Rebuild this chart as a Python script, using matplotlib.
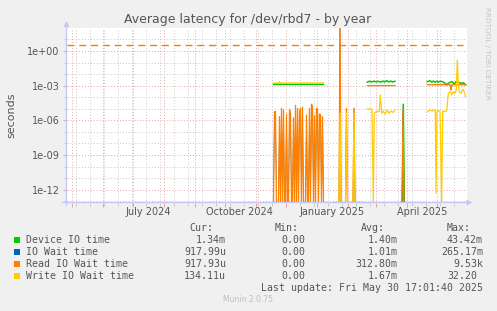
import datetime as dt
import matplotlib
matplotlib.use('Agg')
import matplotlib.pyplot as plt
import matplotlib.dates as mdates
from matplotlib.patches import Rectangle
from matplotlib.ticker import FixedLocator, NullFormatter, FuncFormatter
import numpy as np

nan = float('nan')

W, H = 497, 311   # output size in pixels

# graph window: munin "by year" = 400 days up to the last update
T_END = dt.datetime(2025, 5, 30, 17, 1, 40)
T_START = T_END - dt.timedelta(days=400)

########## Data (day = days after T_START, value in seconds) ##########
# 0 -> drawn on the floor like rrdtool does, nan -> no data (gap)

# Device IO time (green)
device_day = [207, 257, 260,
              300.8, 302.8, 305.2, 307.5, 309.5, 311.8, 314.2, 316.2, 318.2, 320.2,
              322.2, 324.2, 326.2, 328.5, 332,
              335.8, 336.8, 337.8, 345,
              360.8, 363.5, 365.2, 366.8, 368.5, 370.2, 371.8, 373.5, 376.2, 377.8,
              380.2, 381.8, 383.5, 385.8, 387.8, 389.5, 391.8, 394.2, 396.8, 399.2]
device_val = [1.3e-3, 1.3e-3, nan,
              2.0e-3, 2.4e-3, 2.1e-3, 2.5e-3, 2.1e-3, 2.4e-3, 2.0e-3, 2.5e-3, 2.1e-3, 2.7e-3,
              2.1e-3, 2.5e-3, 2.1e-3, 2.4e-3, nan,
              0, 2.5e-5, 0, nan,
              2.2e-3, 2.7e-3, 2.0e-3, 2.5e-3, 2.0e-3, 2.4e-3, 2.0e-3, 2.4e-3, 2.2e-3, 1.8e-3,
              1.2e-3, 1.6e-3, 2.0e-3, 2.2e-3, 1.4e-3, 2.2e-3, 2.0e-3, 1.6e-3, 1.8e-3, 1.2e-3]

# Read IO Wait time (orange): daily samples Nov 18 2024 -> Jan 7 2025
read_daily_start = 207
read_daily = [0, 5.6e-6, 5.6e-6, 0, 0, 0, 2.1e-6, 0, 1.1e-5, 0,
              7.9e-6, 0, 0, 3.3e-6, 0, 0, 9.1e-6, 3.5e-6, 0, 0,
              1.6e-6, 0, 2.0e-5, 0, 1.1e-5, 0, 4.1e-6, 1.1e-5, 0, 1.35e-5,
              0, 0, 0, 2.8e-6, 0, 0, 1.1e-5, 0, 2.5e-5, 1.35e-5,
              0, 2.4e-6, 0, 1.1e-5, 9.1e-6, 0, 3.5e-6, 2.9e-6, 0, 2.1e-6, 0]
# ... and the rest of the year
read_rest_day = [262, 267.5, 272.5, 273.5, 274.5, 279, 280, 281, 286.5, 287.5, 288.5, 295.5,
                 298, 300.8, 328.5,
                 332, 335.5, 336.5, 337.5,
                 345, 360.8, 383.5, 384.5, 385.5, 399.2]
read_rest_val = [nan, 0, 0, 9530, 0, 0, 1.1e-5, 0, 0, 1.1e-5, 0, 0,
                 nan, 1.0e-3, 1.0e-3,
                 nan, 0, 7.9e-6, 0,
                 nan, 1.2e-3, 1.2e-3, 4.2e-4, 1.2e-3, 1.2e-3]

# Write IO Wait time (yellow)
write_day = [207, 212, 213, 214, 257, 262,
             267.5, 272.5, 273.5, 274.5, 279, 280, 281, 286.5, 287.5, 288.5, 295.5, 298,
             300.8, 305.5, 306.8, 307.8, 310, 312.8, 313.8, 315.2, 316.8, 318.5, 320.5,
             322.5, 324.5, 326.5, 328.5, 329.5,
             330.5, 336.5, 345,
             360.8, 363.5, 365.8, 367.8, 368.8, 369.5, 370.5, 373.5, 375.2, 376.2, 378.5,
             380.2, 381.8, 383.5, 385.2, 386.8, 388.5, 389.8, 390.8, 391.8, 392.8, 394.5,
             396.2, 397.8, 399.2]
write_val = [1.7e-3, 1.7e-3, 2.2e-3, 1.7e-3, 1.7e-3, nan,
             0, 0, 4.3e-6, 0, 0, 4.3e-6, 0, 0, 4.3e-6, 0, 0, nan,
             9.6e-6, 9.6e-6, 1e-13, 4.1e-6, 6.0e-6, 5.6e-6, 1.6e-4, 4.1e-6, 6.4e-6, 3.5e-6, 7.9e-6,
             4.1e-6, 6.4e-6, 4.9e-6, 7.9e-6, nan,
             0, 0, nan,
             5.6e-6, 7.9e-6, 6.4e-6, 7.9e-6, 6.4e-6, 4.9e-13, 6.4e-6, 6.4e-6, 0, 6.4e-6, 5.6e-6,
             6.4e-6, 2.2e-4, 3.0e-4, 1.6e-4, 3.0e-4, 2.2e-4, 4.2e-4, 0.166, 1.6e-3, 3.0e-4, 2.2e-4,
             4.9e-4, 3.0e-4, 1.1e-4]

warning_level = 3.1   # dashed orange rule

# legend table
names = ['Device IO time', 'IO Wait time', 'Read IO Wait time', 'Write IO Wait time']
colors = ['#00cc00', '#0066b3', '#ff8000', '#ffcc00']
cur = ['1.34m', '917.99u', '917.93u', '134.11u']
mins = ['0.00', '0.00', '0.00', '0.00']
avgs = ['1.40m', '1.01m', '312.80m', '1.67m']
maxs = ['43.42m', '265.17m', '9.53k', '32.20']

month_labels = ['July 2024', 'October 2024', 'January 2025', 'April 2025']
month_label_at = [dt.datetime(2024, 7, 16), dt.datetime(2024, 10, 16),
                  dt.datetime(2025, 1, 16), dt.datetime(2025, 4, 16)]

########## helpers ##########
Y_LOW, Y_HIGH = 10 ** -13.11, 10 ** 1.99

def px(x, y):
    # pixel position (from top-left) -> figure fraction
    return x / W, 1 - y / H

def to_x(days):
    return mdates.date2num(T_START) + np.asarray(days, dtype=float)

def to_y(vals):
    # rrdtool puts zeros of a log graph on the floor of the graph
    v = np.asarray(vals, dtype=float)
    return np.where(v <= 0, Y_LOW, v)

TEXT = '#555555'
AXIS = '#c4c8f4'
MGRID = '#e9a3a3'
GRID = '#c8c8c8'

plt.rcParams['font.family'] = 'DejaVu Sans'
plt.rcParams['path.simplify'] = False
fig = plt.figure(figsize=(W / 100, H / 100), dpi=100, facecolor='#f0f0f0')
ax = fig.add_axes([66.5 / W, 1 - 202.5 / H, 400 / W, 174.5 / H])
ax.set_facecolor('white')

ax.set_yscale('log', nonpositive='clip')
ax.set_xlim(mdates.date2num(T_START), mdates.date2num(T_END))
ax.set_ylim(Y_LOW, Y_HIGH)

########## grid ##########
month_starts = [dt.datetime(2024 + (m - 1) // 12, (m - 1) % 12 + 1, 1) for m in range(5, 19)]
sundays = np.arange(np.datetime64('2024-05-05'), np.datetime64('2025-06-01'), np.timedelta64(14, 'D'))
ax.xaxis.set_major_locator(FixedLocator(mdates.date2num(month_starts)))
ax.xaxis.set_minor_locator(FixedLocator(mdates.date2num(sundays.astype(dt.datetime))))
ax.xaxis.set_major_formatter(NullFormatter())
ax.xaxis.set_minor_formatter(NullFormatter())

ax.yaxis.set_major_locator(FixedLocator([10.0 ** e for e in range(-12, 1, 3)]))
ax.yaxis.set_minor_locator(FixedLocator([10.0 ** e for e in range(-13, 2)]))
ax.yaxis.set_major_formatter(FuncFormatter(lambda v, p: format(v, '.0e')))
ax.yaxis.set_minor_formatter(NullFormatter())

ax.grid(which='minor', color=GRID, linestyle=(0, (1, 2)), linewidth=0.7)
ax.grid(which='major', color=MGRID, linestyle=(0, (1, 2)), linewidth=0.7)
ax.set_axisbelow(True)

ax.tick_params(which='major', length=3, width=0.7, color=MGRID, labelsize=7, labelcolor=TEXT, pad=2)
ax.tick_params(which='minor', length=2, width=0.7, color=GRID)

for s in ax.spines.values():
    s.set_visible(False)

# axis lines with rrdtool style arrow heads
arrow = dict(arrowstyle='-|>', color=AXIS, lw=1, mutation_scale=7, shrinkA=0, shrinkB=0)
ax.annotate('', xy=(1.015, 0), xytext=(-0.01, 0), xycoords='axes fraction', arrowprops=arrow)
ax.annotate('', xy=(0, 1.04), xytext=(0, -0.015), xycoords='axes fraction', arrowprops=arrow)

########## data ##########
read_day = [read_daily_start + i for i in range(len(read_daily))] + read_rest_day
read_val = read_daily + read_rest_val
# IO wait is (almost) identical to read wait and is painted over by it
iowait_day, iowait_val = read_day, read_val

lw = 0.9
ax.plot(to_x(device_day), to_y(device_val), color=colors[0], lw=lw + 0.2)
ax.plot(to_x(iowait_day), to_y(iowait_val), color=colors[1], lw=0.4)
ax.plot(to_x(read_day), to_y(read_val), color=colors[2], lw=lw)
ax.plot(to_x(write_day), to_y(write_val), color=colors[3], lw=lw)
ax.axhline(warning_level, color='#f08000', lw=1, linestyle=(0, (5, 3.5)), xmax=0.99)

# month labels sit in the middle of the month
for lab, d in zip(month_labels, month_label_at):
    ax.text(mdates.date2num(d), -0.055, lab, transform=ax.get_xaxis_transform(),
            ha='center', va='center', fontsize=7, color=TEXT)

########## titles / side texts ##########
fig.text(*px(248, 19), 'Average latency for /dev/rbd7 - by year', ha='center', va='center',
         fontsize=9, color=TEXT)
fig.text(*px(11, 115), 'seconds', rotation=90, ha='center', va='center', fontsize=8, color=TEXT)
fig.text(*px(487, 53), 'RRDTOOL / TOBI OETIKER', rotation=270, ha='center', va='center',
         fontsize=5.2, color='#c4c4c4')

########## legend ##########
mono = dict(family='DejaVu Sans Mono', fontsize=7.1, color=TEXT)
cw = 5.95   # width of one mono char in px
col_edge = [226, 311, 397.3, 483]
for head, edge in zip(['Cur:', 'Min:', 'Avg:', 'Max:'], col_edge):
    fig.text(*px(edge - 12.8, 228), head, ha='right', va='center', **mono)

row_y = [240, 251.8, 263.6, 275.6]
for i in range(len(names)):
    y = row_y[i]
    fig.add_artist(Rectangle(px(14, y + 3), 6 / W, 6 / H, transform=fig.transFigure,
                             facecolor=colors[i], edgecolor='none'))
    fig.text(*px(26, y), names[i], ha='left', va='center', **mono)
    for val, edge in zip([cur[i], mins[i], avgs[i], maxs[i]], col_edge):
        # values without a unit suffix keep a blank where the suffix goes
        x = edge if val[-1].isalpha() else edge - cw
        fig.text(*px(x, y), val, ha='right', va='center', **mono)

fig.text(*px(483, 288), 'Last update: Fri May 30 17:01:40 2025', ha='right', va='center', **mono)
fig.text(*px(248, 300), 'Munin 2.0.75', ha='center', va='center', fontsize=5.5, color='#c0c0c0')

fig.savefig('out.png', dpi=100, facecolor=fig.get_facecolor())
